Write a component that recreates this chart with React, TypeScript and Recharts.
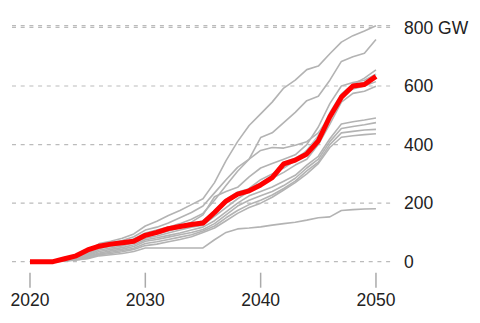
import React from "react";
import { LineChart, Line, XAxis, YAxis, CartesianGrid } from "recharts";

const years = [2020, 2021, 2022, 2023, 2024, 2025, 2026, 2027, 2028, 2029, 2030, 2031, 2032, 2033, 2034, 2035, 2036, 2037, 2038, 2039, 2040, 2041, 2042, 2043, 2044, 2045, 2046, 2047, 2048, 2049, 2050];

const highlight = [0, 0, 0, 10, 20, 40, 53, 60, 65, 70, 90, 100, 113, 120, 127, 132, 168, 207, 231, 242, 262, 287, 334, 347, 368, 413, 495, 562, 600, 605, 633];
const shadow = [0, 0, 0, 12, 23, 43, 57, 64, 69, 75, 95, 105, 118, 125, 131, 137, 176, 214, 238, 249, 269, 294, 340, 354, 378, 428, 510, 574, 606, 612, 640];

const sA = [0, 0, 0, 12, 22, 35, 62, 70, 80, 95, 122, 138, 158, 175, 195, 215, 270, 345, 410, 465, 505, 545, 593, 620, 656, 668, 710, 750, 772, 788, 806];
const sB = [0, 0, 0, 10, 20, 32, 58, 65, 72, 85, 108, 118, 132, 150, 168, 190, 235, 280, 322, 350, 424, 440, 475, 510, 550, 565, 620, 684, 700, 712, 759];
const sC = [0, 0, 0, 8, 18, 30, 52, 58, 65, 78, 98, 108, 118, 130, 145, 165, 210, 260, 309, 350, 380, 390, 388, 398, 410, 440, 497, 560, 605, 627, 655];
const sD = [0, 0, 0, 8, 16, 28, 48, 55, 62, 74, 92, 100, 110, 120, 135, 160, 222, 240, 254, 290, 320, 335, 350, 365, 400, 460, 540, 600, 612, 620, 640];
const sF = [0, 0, 0, 6, 14, 25, 45, 52, 58, 70, 85, 95, 105, 115, 128, 140, 170, 200, 230, 250, 280, 300, 320, 345, 380, 430, 500, 570, 590, 600, 615];
const sG = [0, 0, 0, 5, 12, 22, 40, 47, 54, 65, 80, 88, 98, 108, 118, 125, 155, 185, 215, 240, 265, 285, 305, 330, 350, 400, 470, 545, 575, 582, 599];
const sH = [0, 0, 0, 5, 12, 20, 35, 42, 48, 58, 75, 82, 90, 98, 108, 118, 140, 170, 200, 225, 240, 255, 275, 295, 330, 360, 420, 470, 478, 484, 491];
const sI = [0, 0, 0, 4, 10, 18, 30, 37, 43, 52, 70, 76, 84, 92, 100, 110, 130, 160, 190, 210, 225, 240, 260, 285, 320, 350, 410, 455, 462, 468, 475];
const sJ = [0, 0, 0, 3, 8, 15, 26, 32, 38, 46, 62, 68, 76, 84, 92, 105, 122, 150, 175, 195, 210, 228, 250, 275, 310, 340, 400, 440, 445, 450, 452];
const sK = [0, 0, 0, 2, 6, 12, 24, 28, 34, 42, 55, 60, 68, 76, 85, 100, 115, 140, 165, 185, 200, 220, 245, 270, 300, 335, 390, 425, 430, 434, 437];
const sE = [0, 0, 0, 3, 6, 10, 20, 24, 28, 35, 47, 47, 47, 47, 47, 47, 75, 100, 112, 115, 119, 125, 130, 135, 142, 150, 153, 175, 178, 180, 181];

const grayKeys = ["sA", "sB", "sC", "sD", "sF", "sG", "sH", "sI", "sJ", "sK", "sE"];
const grayArrays = [sA, sB, sC, sD, sF, sG, sH, sI, sJ, sK, sE];

const xTicks = [2020, 2030, 2040, 2050];
const yTicks = [0, 200, 400, 600, 800];
const yTickLabels = ["0", "200", "400", "600", "800 GW"];

const data = years.map((yr, i) => {
  const row: Record<string, number> = { year: yr, highlight: highlight[i], shadow: shadow[i] };
  grayKeys.forEach((k, j) => {
    row[k] = grayArrays[j][i];
  });
  return row;
});

const FONT = "'Liberation Sans', Arial, sans-serif";

const XTick = (props: any) => {
  const { x, y, payload } = props;
  return (
    <g>
      <line x1={x} x2={x} y1={y + 11} y2={y + 26} stroke="#aaa" strokeWidth={1.5} />
      <text x={x} y={y + 44} textAnchor="middle" fontSize={17.5} fontFamily={FONT} fill="#222">
        {payload.value}
      </text>
    </g>
  );
};

export default function App() {
  return (
    <div style={{ width: 464, height: 307 }}>
      <LineChart
        width={464}
        height={307}
        data={data}
        margin={{ top: 17.7, left: 4, right: 0, bottom: 13.3 }}
      >
        <CartesianGrid vertical={false} stroke="#bbb" strokeDasharray="4 4.7" strokeWidth={1.2} />
        <XAxis
          dataKey="year"
          type="number"
          domain={[2018.44, 2051.39]}
          ticks={xTicks}
          axisLine={false}
          tickLine={false}
          tickSize={0}
          tickMargin={0}
          height={40}
          tick={<XTick />}
          interval={0}
        />
        <YAxis
          orientation="right"
          domain={[0, 800]}
          ticks={yTicks}
          width={80}
          axisLine={false}
          tickLine={false}
          tickSize={0}
          tickMargin={12}
          interval={0}
          tickFormatter={(v: number) => yTickLabels[yTicks.indexOf(v)]}
          tick={{ fontSize: 17.5, fontFamily: FONT, fill: "#222", textAnchor: "start" }}
        />
        {grayKeys.map((k) => (
          <Line
            key={k}
            dataKey={k}
            stroke="#b3b3b3"
            strokeWidth={1.6}
            dot={false}
            isAnimationActive={false}
            strokeLinejoin="round"
          />
        ))}
        <Line dataKey="shadow" stroke="#b0d8de" strokeWidth={1.4} dot={false} isAnimationActive={false} />
        <Line
          dataKey="highlight"
          stroke="#ff0000"
          strokeWidth={5}
          dot={false}
          isAnimationActive={false}
          strokeLinejoin="round"
        />
      </LineChart>
    </div>
  );
}
